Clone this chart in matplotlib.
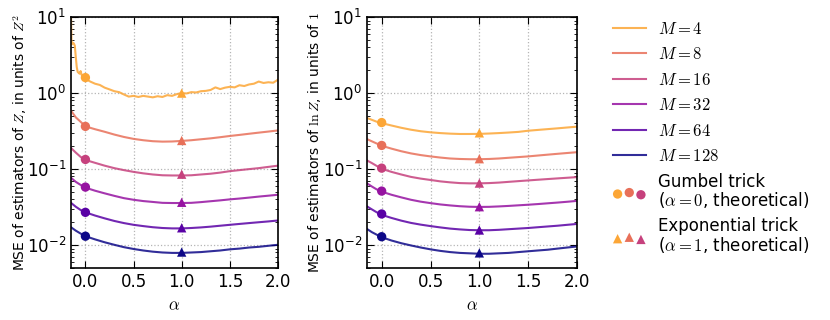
import numpy as np
import matplotlib
matplotlib.use("Agg")
import matplotlib.pyplot as plt

plt.rcParams.update({
    "font.family": ["DejaVu Sans"],
    "mathtext.fontset": "cm",
    "xtick.direction": "in",
    "ytick.direction": "in",
    "xtick.top": True,
    "ytick.right": True,
    "xtick.major.size": 5,
    "ytick.major.size": 5,
    "xtick.minor.size": 2.5,
    "ytick.minor.size": 2.5,
    "axes.linewidth": 1.2,
    "font.size": 10,
})

Ms = [4, 8, 16, 32, 64, 128]
labels = [r"$M=%d$" % m for m in Ms]

alpha = [-0.15, -0.10, -0.05, 0.0, 0.1, 0.2, 0.3, 0.4, 0.5, 0.6, 0.7, 0.8, 0.9,
         1.0, 1.1, 1.2, 1.3, 1.4, 1.5, 1.6, 1.7, 1.8, 1.9, 2.0]

# noisy M=4 curve for Z (own alpha grid)
alpha_z4 = [-0.15, -0.145, -0.14, -0.13, -0.12, -0.11, -0.10, -0.09, -0.08, -0.07,
            -0.06, -0.05, -0.04, -0.03, -0.02, -0.01, 0.0,
            0.05, 0.10, 0.15, 0.20, 0.25, 0.30, 0.35, 0.40, 0.45, 0.50,
            0.55, 0.60, 0.65, 0.70, 0.75, 0.80, 0.85, 0.90, 0.95, 1.00,
            1.05, 1.10, 1.15, 1.20, 1.25, 1.30, 1.35, 1.40, 1.45, 1.50,
            1.55, 1.60, 1.65, 1.70, 1.75, 1.80, 1.85, 1.90, 1.95, 2.00]
mse_z_4 = [12, 5.0, 4.4, 4.6, 4.5, 4.2, 3.0, 2.2, 1.9, 1.85,
           1.8, 1.95, 1.75, 1.65, 1.6, 1.6, 1.55,
           1.42, 1.33, 1.28, 1.18, 1.12, 1.06, 1.03, 0.96, 0.90, 0.92,
           0.89, 0.92, 0.90, 0.88, 0.91, 0.89, 0.94, 0.92, 0.97, 1.00,
           0.99, 1.03, 1.02, 1.06, 1.07, 1.10, 1.19, 1.13, 1.18, 1.21,
           1.19, 1.27, 1.24, 1.30, 1.33, 1.42, 1.36, 1.39, 1.37, 1.50]

mse_z_8 = [0.59, 0.48, 0.42, 0.365, 0.335, 0.31, 0.285, 0.265, 0.25, 0.24, 0.233, 0.23,
           0.231, 0.235, 0.24, 0.247, 0.254, 0.263, 0.273, 0.282, 0.292, 0.302, 0.312, 0.323]
mse_z_16 = [0.19, 0.165, 0.145, 0.132, 0.121, 0.111, 0.103, 0.097, 0.092, 0.088, 0.085, 0.083,
            0.0825, 0.0825, 0.083, 0.085, 0.087, 0.090, 0.094, 0.097, 0.100, 0.103, 0.107, 0.111]
mse_z_32 = [0.077, 0.068, 0.062, 0.057, 0.052, 0.048, 0.0445, 0.0415, 0.0395, 0.038, 0.037, 0.036,
            0.0358, 0.0358, 0.036, 0.0368, 0.0378, 0.0388, 0.040, 0.041, 0.0422, 0.0435, 0.0447, 0.046]
mse_z_64 = [0.036, 0.032, 0.029, 0.027, 0.0245, 0.0225, 0.0208, 0.0195, 0.0185, 0.0178, 0.0172, 0.0168,
            0.0166, 0.0166, 0.0168, 0.0171, 0.0175, 0.018, 0.0185, 0.019, 0.0195, 0.020, 0.0205, 0.0211]
mse_z_128 = [0.0172, 0.0155, 0.0142, 0.0131, 0.0119, 0.0109, 0.0101, 0.0094, 0.0089, 0.0085, 0.0082, 0.0080,
             0.0079, 0.0079, 0.0080, 0.0081, 0.0083, 0.0085, 0.0088, 0.0090, 0.0093, 0.0095, 0.0098, 0.0101]

mse_lnz_4 = [0.47, 0.445, 0.42, 0.403, 0.375, 0.35, 0.33, 0.315, 0.305, 0.298, 0.293, 0.29,
             0.29, 0.291, 0.294, 0.298, 0.303, 0.309, 0.32, 0.328, 0.336, 0.344, 0.353, 0.362]
mse_lnz_8 = [0.248, 0.232, 0.217, 0.203, 0.186, 0.172, 0.161, 0.153, 0.147, 0.142, 0.138, 0.136,
             0.135, 0.135, 0.136, 0.138, 0.141, 0.144, 0.147, 0.151, 0.155, 0.159, 0.163, 0.167]
mse_lnz_16 = [0.13, 0.12, 0.11, 0.101, 0.092, 0.085, 0.079, 0.075, 0.072, 0.069, 0.067, 0.0655,
              0.065, 0.065, 0.0655, 0.0665, 0.068, 0.0695, 0.071, 0.0725, 0.074, 0.0755, 0.077, 0.0785]
mse_lnz_32 = [0.065, 0.059, 0.054, 0.0505, 0.046, 0.0425, 0.0395, 0.0373, 0.0357, 0.0343, 0.0333, 0.0325,
              0.032, 0.0318, 0.0319, 0.0323, 0.0328, 0.0334, 0.034, 0.0347, 0.0355, 0.0363, 0.0372, 0.0382]
mse_lnz_64 = [0.0323, 0.0295, 0.027, 0.025, 0.0228, 0.021, 0.0196, 0.0186, 0.0178, 0.0171, 0.0165, 0.0161,
              0.0158, 0.0157, 0.0157, 0.0159, 0.0162, 0.0165, 0.0168, 0.0172, 0.0176, 0.018, 0.0185, 0.019]
mse_lnz_128 = [0.0163, 0.0148, 0.0137, 0.0127, 0.0115, 0.0106, 0.0099, 0.0093, 0.0088, 0.0084, 0.0081, 0.0079,
               0.0078, 0.0077, 0.0077, 0.0078, 0.0079, 0.0081, 0.0083, 0.0085, 0.0087, 0.0090, 0.0093, 0.0096]

gumbel_z = [1.6, 0.365, 0.134, 0.058, 0.027, 0.0131]
exp_z = [1.0, 0.238, 0.0857, 0.0366, 0.0169, 0.0081]
gumbel_lnz = [0.41, 0.205, 0.103, 0.0514, 0.0257, 0.0129]
exp_lnz = [0.30, 0.137, 0.0655, 0.032, 0.0158, 0.0079]

colors = plt.cm.plasma(np.linspace(0.8, 0.0, 6))

fig = plt.figure(figsize=(8.3, 3.2), dpi=100)
ax1 = fig.add_axes([0.0855, 0.1625, 0.2494, 0.784])
ax2 = fig.add_axes([0.4422, 0.1625, 0.2530, 0.784])

z_curves = [(alpha_z4, mse_z_4), (alpha, mse_z_8), (alpha, mse_z_16),
            (alpha, mse_z_32), (alpha, mse_z_64), (alpha, mse_z_128)]
lnz_curves = [mse_lnz_4, mse_lnz_8, mse_lnz_16, mse_lnz_32, mse_lnz_64, mse_lnz_128]

handles = []
for i in range(6):
    a, v = z_curves[i]
    h, = ax1.plot(a, v, color=colors[i], lw=1.5, alpha=0.85, label=labels[i])
    handles.append(h)
    ax2.plot(alpha, lnz_curves[i], color=colors[i], lw=1.5, alpha=0.85)

sg = ax1.scatter([0.0] * 6, gumbel_z, c=colors, marker="o", s=45, edgecolors="none", zorder=3,
                 label="Gumbel trick\n" + r"($\alpha=0$, theoretical)")
se = ax1.scatter([1.0] * 6, exp_z, c=colors, marker="^", s=45, edgecolors="none", zorder=3,
                 label="Exponential trick\n" + r"($\alpha=1$, theoretical)")
ax2.scatter([0.0] * 6, gumbel_lnz, c=colors, marker="o", s=45, edgecolors="none", zorder=3)
ax2.scatter([1.0] * 6, exp_lnz, c=colors, marker="^", s=45, edgecolors="none", zorder=3)

for ax in (ax1, ax2):
    ax.set_yscale("log")
    ax.set_xlim(-0.15, 2.0)
    ax.set_ylim(0.005, 10)
    ax.set_xticks([0.0, 0.5, 1.0, 1.5, 2.0])
    ax.set_xticklabels(["0.0", "0.5", "1.0", "1.5", "2.0"])
    ax.grid(True, which="major", linestyle=":", color="#b5b5b5", linewidth=0.9)
    ax.set_xlabel(r"$\alpha$", fontsize=12)
    ax.tick_params(which="both", top=True, right=True, labelsize=12)

ax1.set_ylabel(r"MSE of estimators of $Z$, in units of $Z^2$", fontsize=10)
ax2.set_ylabel(r"MSE of estimators of $\ln Z$, in units of $1$", fontsize=10)
ax1.yaxis.set_label_coords(-0.205, 0.5)
ax2.yaxis.set_label_coords(-0.21, 0.5)

leg = fig.legend(handles + [sg, se], labels + [sg.get_label(), se.get_label()],
                 loc="upper left", bbox_to_anchor=(0.72, 0.985), frameon=False,
                 scatterpoints=3, fontsize=12, labelspacing=0.45, handlelength=2.0,
                 handletextpad=0.7)
for t in leg.get_texts():
    t.set_linespacing(0.95)

fig.savefig("out.png", dpi=100)
